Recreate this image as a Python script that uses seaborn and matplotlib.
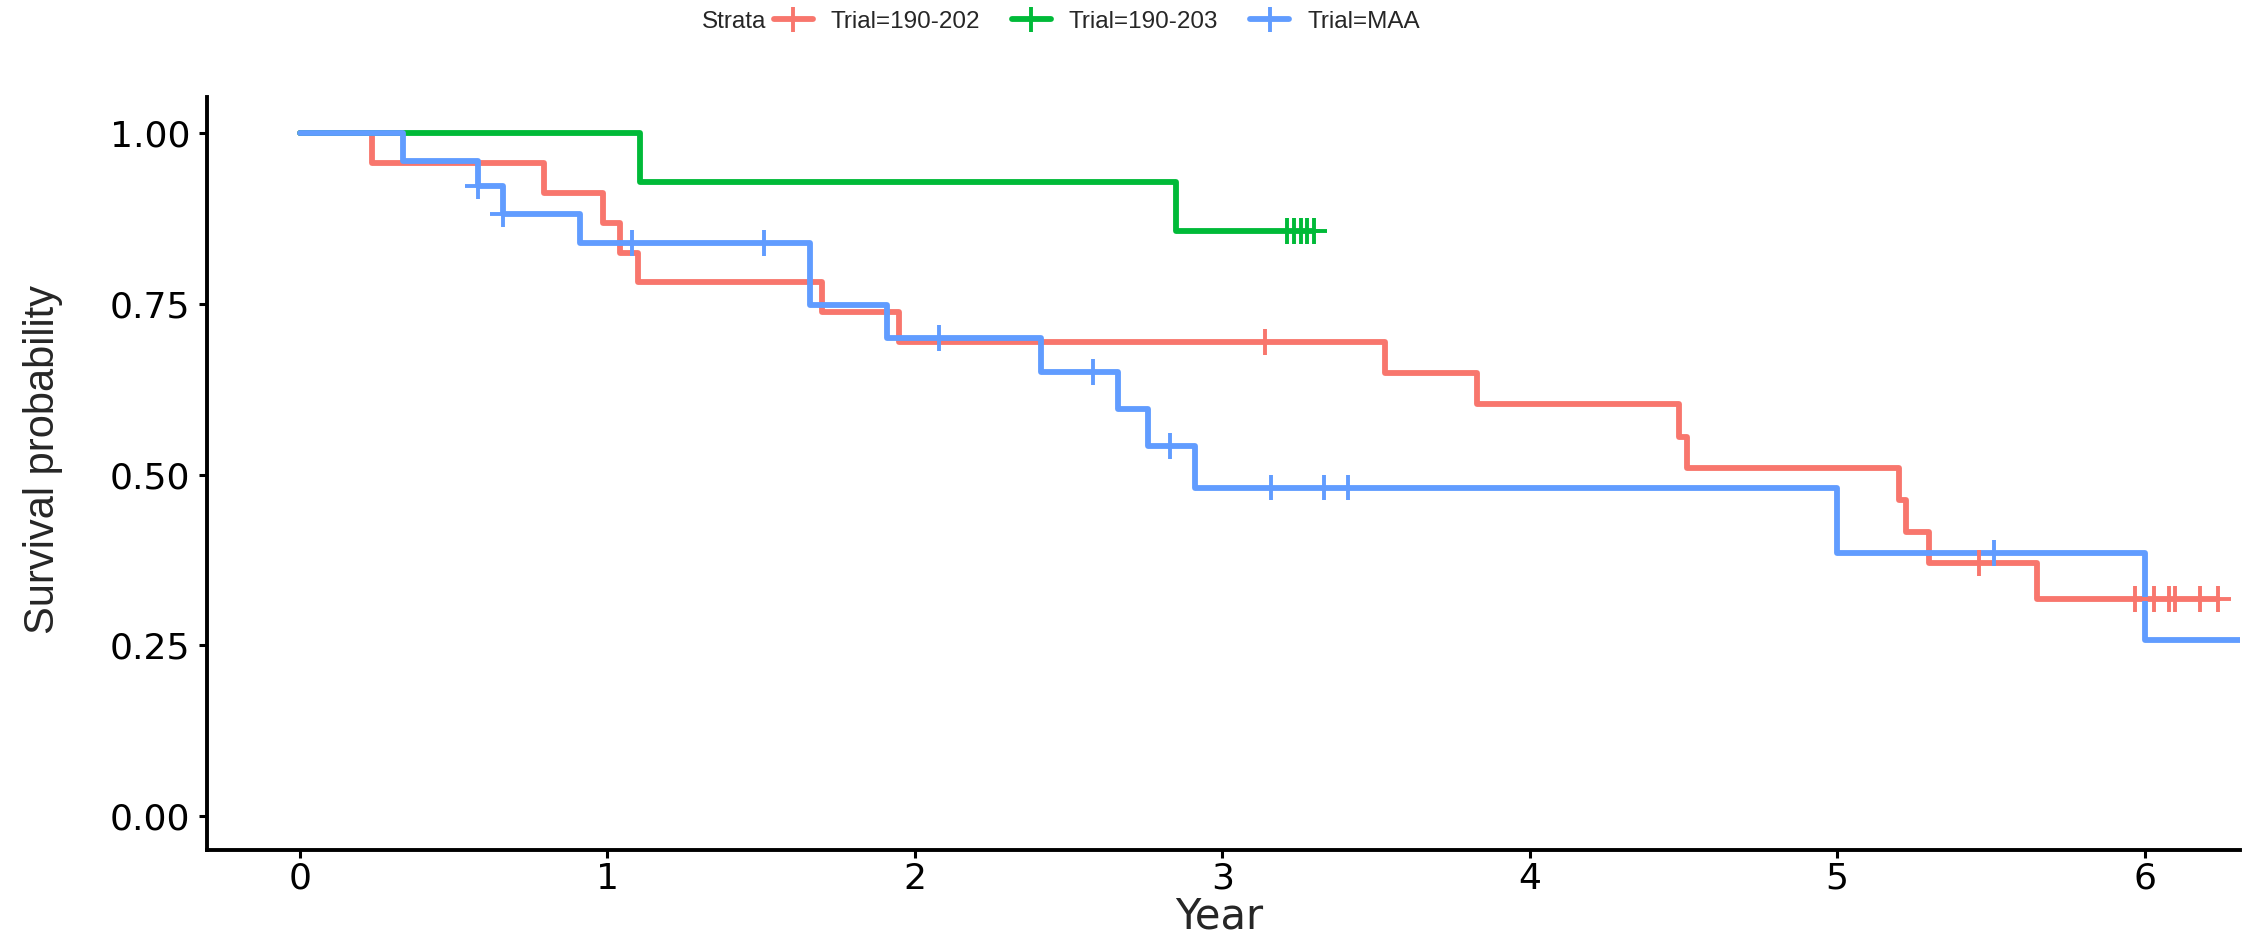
import numpy as np
import pandas as pd
import matplotlib
matplotlib.use("Agg")
import matplotlib.pyplot as plt
from matplotlib.lines import Line2D
import seaborn as sns

# ---- data (Kaplan-Meier steps) ----
TRIALS = ["Trial=190-202", "Trial=190-203", "Trial=MAA"]
COLORS = ["#F8766D", "#00BA38", "#619CFF"]

red_time = [0, 0.236, 0.795, 0.985, 1.043, 1.10, 1.70, 1.95, 3.53, 3.83,
            4.485, 4.51, 5.20, 5.225, 5.30, 5.65, 6.24]
red_surv = [1.000, 0.956, 0.913, 0.869, 0.824, 0.782, 0.738, 0.694, 0.649,
            0.603, 0.555, 0.510, 0.463, 0.416, 0.370, 0.318, 0.318]
red_censor = [3.14, 5.46, 5.97, 6.03, 6.08, 6.10, 6.18, 6.24]

green_time = [0, 1.105, 2.85, 3.30]
green_surv = [1.000, 0.929, 0.857, 0.857]
green_censor = [3.21, 3.235, 3.255, 3.275, 3.30]

blue_time = [0, 0.336, 0.58, 0.66, 0.91, 1.66, 1.91, 2.41, 2.66, 2.76,
             2.91, 5.00, 6.00, 6.40]
blue_surv = [1.000, 0.960, 0.922, 0.882, 0.839, 0.748, 0.700, 0.650, 0.596,
             0.542, 0.481, 0.385, 0.258, 0.258]
blue_censor = [0.58, 0.66, 1.08, 1.51, 2.08, 2.58, 2.83, 3.16, 3.33, 3.41, 5.51]

X_TICKS = [0, 1, 2, 3, 4, 5, 6]
Y_TICKS = [0.00, 0.25, 0.50, 0.75, 1.00]


def surv_at(times, surv, t):
    idx = np.searchsorted(np.asarray(times), np.asarray(t), side="right") - 1
    return np.asarray(surv)[idx]


curves = []
cens = []
for name, t, s, c in zip(TRIALS,
                         [red_time, green_time, blue_time],
                         [red_surv, green_surv, blue_surv],
                         [red_censor, green_censor, blue_censor]):
    curves.append(pd.DataFrame({"Year": t, "Survival": s, "Trial": name}))
    cens.append(pd.DataFrame({"Year": c, "Survival": surv_at(t, s, c), "Trial": name}))
curve_df = pd.concat(curves, ignore_index=True)
cens_df = pd.concat(cens, ignore_index=True)

palette = dict(zip(TRIALS, COLORS))

sns.set_style("ticks")
plt.rcParams["font.family"] = ["Liberation Sans", "DejaVu Sans"]

fig = plt.figure(figsize=(22.49, 9.40), dpi=100)
ax = fig.add_axes([0.092, 0.0957, 0.904, 0.8011])

sns.lineplot(data=curve_df, x="Year", y="Survival", hue="Trial", palette=palette,
             drawstyle="steps-post", estimator=None, sort=False,
             linewidth=4.2, legend=False, ax=ax)
sns.scatterplot(data=cens_df, x="Year", y="Survival", hue="Trial", palette=palette,
                marker="+", s=340, linewidth=2.8, legend=False, ax=ax, zorder=3)

ax.set_xlim(-0.302, 6.31)
ax.set_ylim(-0.05, 1.053)
ax.set_xticks(X_TICKS)
ax.set_yticks(Y_TICKS)
ax.set_yticklabels([f"{v:.2f}" for v in Y_TICKS])

for sp in ["top", "right"]:
    ax.spines[sp].set_visible(False)
for sp in ["left", "bottom"]:
    ax.spines[sp].set_linewidth(2.8)
    ax.spines[sp].set_color("black")

ax.tick_params(axis="both", length=6, width=2.2, color="black", labelcolor="black",
               labelsize=26)
ax.tick_params(axis="x", pad=2.5)
ax.tick_params(axis="y", pad=6)
for lab in ax.get_xticklabels() + ax.get_yticklabels():
    lab.set_family("DejaVu Sans")

ax.set_xlabel("Year", fontsize=30, family="DejaVu Sans")
ax.xaxis.set_label_coords(0.498, -0.1036)
ax.xaxis.label.set_va("baseline")
ax.set_ylabel("Survival probability", fontsize=30, family="Liberation Sans")
ax.yaxis.set_label_coords(-0.071, 0.518)

# legend across the top, ggplot style
fig.text(0.3406, 0.9766, "Strata", fontsize=17.5, va="center", ha="right")
handles = [Line2D([], [], color=c, linewidth=4.2, marker="+", markersize=18,
                  markeredgewidth=2.8) for c in COLORS]
fig.legend(handles, TRIALS, loc="center left", bbox_to_anchor=(0.344, 0.9766),
           ncol=3, frameon=False, borderpad=0, borderaxespad=0,
           handlelength=1.6, handletextpad=0.75, columnspacing=1.3,
           prop={"size": 17.5})

fig.savefig("out.png", dpi=100)
